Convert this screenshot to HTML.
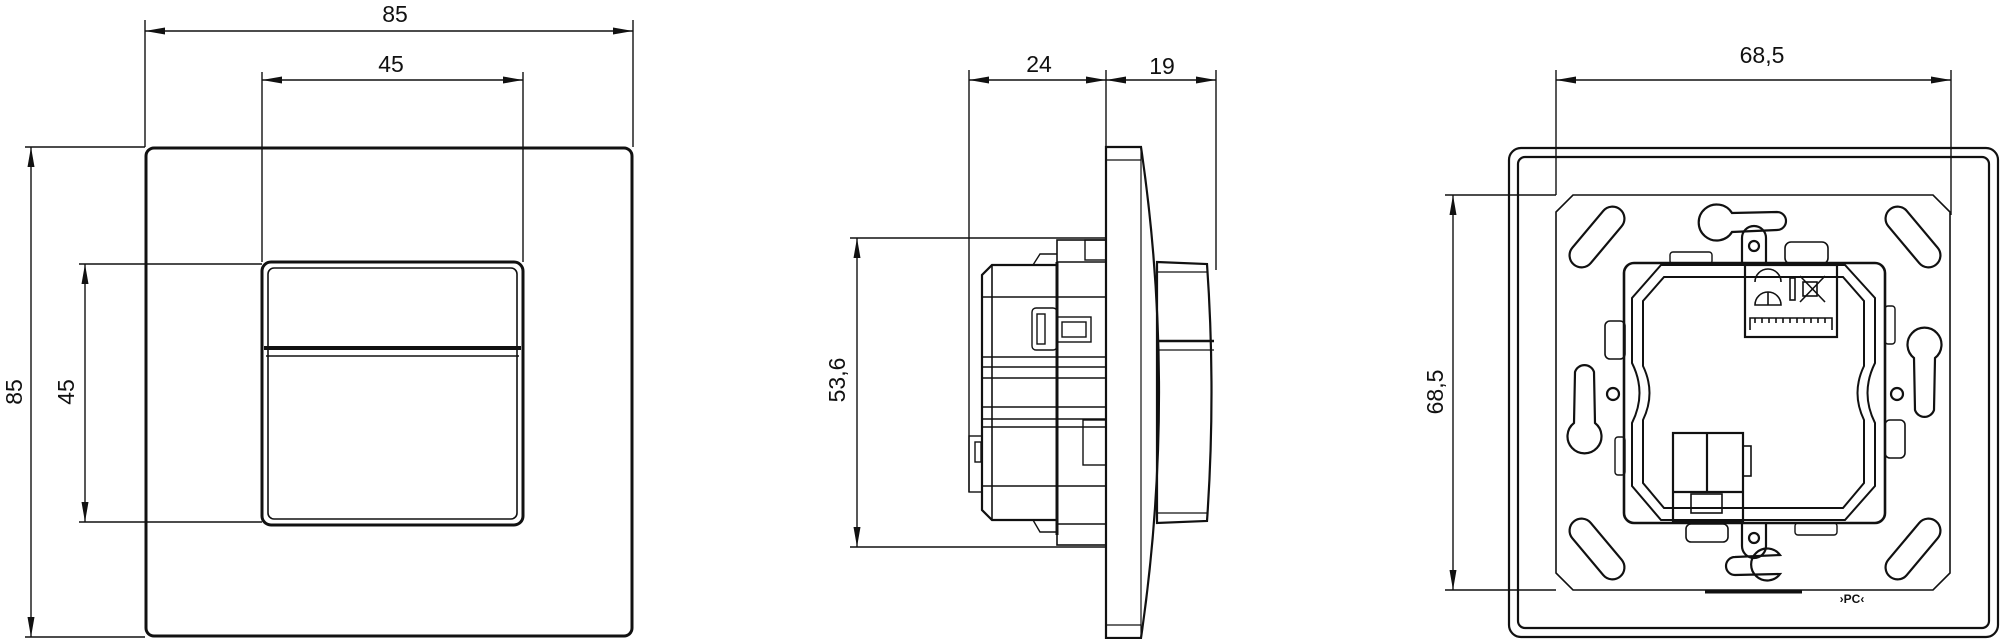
<!DOCTYPE html>
<html><head><meta charset="utf-8"><style>
html,body{margin:0;padding:0;background:#fff;width:2000px;height:639px;overflow:hidden}
svg{display:block}
text{font-family:"Liberation Sans",sans-serif;font-size:23px;fill:#111}
</style></head><body>
<svg width="2000" height="639" viewBox="0 0 2000 639" xmlns="http://www.w3.org/2000/svg">
<defs>
<marker id="a" viewBox="0 0 20 8" refX="20" refY="4" markerWidth="20" markerHeight="8" markerUnits="userSpaceOnUse" orient="auto-start-reverse"><path d="M20,4 L0,0.5 L0,7.5 Z" fill="#111"/></marker>
</defs>
<g fill="none" stroke="#111" stroke-width="1.4">
<!-- LEFT VIEW dims -->
<line x1="145" y1="20" x2="145" y2="147"/><line x1="633" y1="20" x2="633" y2="147"/>
<line x1="145" y1="31" x2="633" y2="31" marker-start="url(#a)" marker-end="url(#a)"/>
<line x1="262" y1="72" x2="262" y2="262"/><line x1="523" y1="72" x2="523" y2="262"/>
<line x1="262" y1="80" x2="523" y2="80" marker-start="url(#a)" marker-end="url(#a)"/>
<line x1="25" y1="147" x2="145" y2="147"/><line x1="25" y1="637" x2="145" y2="637"/>
<line x1="31" y1="147" x2="31" y2="637" marker-start="url(#a)" marker-end="url(#a)"/>
<line x1="79" y1="264" x2="262" y2="264"/><line x1="79" y1="522" x2="262" y2="522"/>
<line x1="85" y1="264" x2="85" y2="522" marker-start="url(#a)" marker-end="url(#a)"/>
</g>
<g fill="none" stroke="#111" stroke-width="3">
<rect x="146" y="148" width="486" height="488" rx="8"/>
<rect x="262" y="262" width="261" height="263" rx="9"/>
<rect x="268" y="268" width="249" height="251" rx="6" stroke-width="1.6"/>
<line x1="264" y1="348" x2="521" y2="348" stroke-width="4"/>
<line x1="266" y1="356" x2="519" y2="356" stroke-width="1.4"/>
</g>
<text x="395" y="22" text-anchor="middle">85</text>
<text x="391" y="72" text-anchor="middle">45</text>
<text transform="translate(22,392) rotate(-90)" text-anchor="middle">85</text>
<text transform="translate(74,392) rotate(-90)" text-anchor="middle">45</text>

<!-- MIDDLE VIEW -->
<g fill="none" stroke="#111" stroke-width="1.4">
<line x1="969" y1="70" x2="969" y2="492"/><line x1="1106" y1="70" x2="1106" y2="147"/><line x1="1216" y1="70" x2="1216" y2="270"/>
<line x1="969" y1="80" x2="1106" y2="80" marker-start="url(#a)" marker-end="url(#a)"/>
<line x1="1106" y1="80" x2="1216" y2="80" marker-start="url(#a)" marker-end="url(#a)"/>
<line x1="850" y1="238" x2="1105" y2="238"/><line x1="850" y1="547" x2="1105" y2="547"/>
<line x1="857" y1="238" x2="857" y2="547" marker-start="url(#a)" marker-end="url(#a)"/>
</g>
<text x="1039" y="72" text-anchor="middle">24</text>
<text x="1162" y="74" text-anchor="middle">19</text>
<text transform="translate(845,380) rotate(-90)" text-anchor="middle">53,6</text>
<g fill="none" stroke="#111" stroke-width="2.2">
<!-- plate -->
<path d="M1106,147 L1141,147 Q1177,392 1141,638 L1106,638 Z"/>
<line x1="1107" y1="160" x2="1141" y2="160" stroke-width="1.2"/>
<line x1="1107" y1="625" x2="1141" y2="625" stroke-width="1.2"/>
<line x1="1141" y1="148" x2="1141" y2="637" stroke-width="1.2"/>
<!-- rocker -->
<path d="M1157,262 L1207,264 Q1216,392 1207,521 L1157,523 Z"/>
<line x1="1158" y1="272" x2="1207" y2="272" stroke-width="1.2"/>
<line x1="1158" y1="341" x2="1214" y2="341" stroke-width="2.5"/>
<line x1="1158" y1="350" x2="1214" y2="350" stroke-width="1.2"/>
<line x1="1158" y1="513" x2="1207" y2="513" stroke-width="1.2"/>
<!-- rear block -->
<rect x="1057" y="240" width="49" height="305" stroke-width="1.6"/>
<path d="M992,265 L1057,265 L1057,520 L992,520 L982,510 L982,275 Z"/>
<line x1="992" y1="265" x2="992" y2="520" stroke-width="1.6"/>
<line x1="1057" y1="262" x2="1057" y2="535" stroke-width="3"/>
<g stroke-width="1.4">
<line x1="982" y1="297" x2="1106" y2="297"/>
<line x1="982" y1="357" x2="1106" y2="357"/>
<line x1="982" y1="367" x2="1106" y2="367"/>
<line x1="982" y1="378" x2="1106" y2="378"/>
<line x1="982" y1="407" x2="1106" y2="407"/>
<line x1="982" y1="419" x2="1106" y2="419"/>
<line x1="982" y1="427" x2="1106" y2="427"/>
<line x1="982" y1="486" x2="1106" y2="486"/>
<line x1="1057" y1="262" x2="1106" y2="262"/>
<line x1="1057" y1="524" x2="1106" y2="524"/>
<rect x="1032" y="308" width="25" height="42" rx="4"/>
<rect x="1037" y="314" width="8" height="30"/>
<rect x="1057" y="317" width="34" height="25"/>
<rect x="1062" y="322" width="24" height="15"/>
<rect x="969" y="436" width="13" height="56"/>
<rect x="975" y="442" width="6" height="20"/>
<rect x="1083" y="420" width="23" height="45"/>
<rect x="1085" y="240" width="21" height="20"/>
<path d="M1033,265 L1040,254 L1057,254"/>
<path d="M1033,520 L1040,532 L1057,532"/>
</g>
</g>

<!-- RIGHT VIEW -->
<g fill="none" stroke="#111" stroke-width="1.4">
<line x1="1556" y1="70" x2="1556" y2="195"/><line x1="1951" y1="70" x2="1951" y2="215"/>
<line x1="1556" y1="80" x2="1951" y2="80" marker-start="url(#a)" marker-end="url(#a)"/>
<line x1="1445" y1="195" x2="1556" y2="195"/><line x1="1445" y1="590" x2="1556" y2="590"/>
<line x1="1453" y1="195" x2="1453" y2="590" marker-start="url(#a)" marker-end="url(#a)"/>
</g>
<text x="1762" y="63" text-anchor="middle">68,5</text>
<text transform="translate(1443,392) rotate(-90)" text-anchor="middle">68,5</text>
<g fill="none" stroke="#111" stroke-width="2.2">
<rect x="1509" y="148" width="489" height="489" rx="12"/>
<rect x="1518" y="157" width="471" height="471" rx="7"/>
<path d="M1573,195 L1933,195 L1950,212 L1950,573 L1933,590 L1573,590 L1556,573 L1556,212 Z" stroke-width="1.6"/>
<line x1="1705" y1="592" x2="1802" y2="592" stroke-width="3"/>
<!-- diagonal slots -->
<rect x="-36" y="-12" width="72" height="24" rx="12" transform="translate(1597,237) rotate(-50)"/>
<rect x="-36" y="-12" width="72" height="24" rx="12" transform="translate(1913,237) rotate(50)"/>
<rect x="-36" y="-12" width="72" height="24" rx="12" transform="translate(1597,549) rotate(50)"/>
<rect x="-36" y="-12" width="72" height="24" rx="12" transform="translate(1913,549) rotate(-50)"/>
<!-- keyholes -->
<path d="M1732,213 A18,18 0 1 0 1732,232 L1777,230 A9,9 0 0 0 1777,212 Z"/>
<path d="M1780,555 A16,16 0 1 0 1780,574 L1735,575 A9,9 0 0 1 1735,557 Z"/>
<path d="M1574,423 A17,17 0 1 0 1595,423 L1594,372 A10,10 0 0 0 1575,372 Z"/>
<path d="M1914,358 A17,17 0 1 1 1935,358 L1934,410 A10,10 0 0 1 1915,410 Z"/>
<circle cx="1613" cy="394" r="6"/><circle cx="1897" cy="394" r="6"/>
<!-- screw tabs -->
<path d="M1742,262 L1742,238 A12,12 0 0 1 1766,238 L1766,262"/><circle cx="1754" cy="246" r="5"/>
<path d="M1742,524 L1742,546 A12,12 0 0 0 1766,546 L1766,524"/><circle cx="1754" cy="538" r="5"/>
<!-- small clips -->
<rect x="1785" y="242" width="43" height="22" rx="6" stroke-width="1.6"/>
<rect x="1670" y="252" width="42" height="12" rx="3" stroke-width="1.4"/>
<rect x="1686" y="524" width="42" height="18" rx="5" stroke-width="1.6"/>
<rect x="1795" y="523" width="42" height="12" rx="3" stroke-width="1.4"/>
<rect x="1605" y="321" width="20" height="38" rx="5" stroke-width="1.6"/>
<rect x="1615" y="437" width="10" height="38" rx="3" stroke-width="1.4"/>
<rect x="1885" y="306" width="10" height="38" rx="3" stroke-width="1.4"/>
<rect x="1885" y="420" width="20" height="38" rx="5" stroke-width="1.6"/>
<!-- module -->
<rect x="1624" y="263" width="261" height="260" rx="10" stroke-width="2.6"/>
<path d="M1661,265 L1845,265 L1875,298 L1875,363 Q1860,393 1875,423 L1875,486 L1845,520 L1661,520 L1632,486 L1632,423 Q1647,393 1632,363 L1632,298 Z" stroke-width="2"/>
<path d="M1664,277 L1843,277 L1864,301 L1864,366 Q1851,393 1864,420 L1864,483 L1843,508 L1664,508 L1643,483 L1643,420 Q1656,393 1643,366 L1643,301 Z" stroke-width="2"/>
<rect x="1745" y="265" width="92" height="72" stroke-width="2.2"/>
<g stroke-width="1.6">
<path d="M1755,282 A13,13 0 0 1 1781,282"/><path d="M1755,305 A13,13 0 0 1 1781,305 Z"/><line x1="1768" y1="292" x2="1768" y2="305"/>
<rect x="1790" y="278" width="5" height="22"/>
<line x1="1800" y1="276" x2="1825" y2="302"/><line x1="1825" y1="276" x2="1800" y2="302"/>
<rect x="1803" y="282" width="14" height="14"/>
<path d="M1750,330 L1750,318 L1832,318 L1832,330"/>
<path d="M1755,318 v5 M1762,318 v5 M1769,318 v5 M1776,318 v5 M1783,318 v5 M1790,318 v5 M1797,318 v5 M1804,318 v5 M1811,318 v5 M1818,318 v5 M1825,318 v5"/>
</g>
<rect x="1673" y="433" width="70" height="89" stroke-width="2.2"/>
<line x1="1707" y1="433" x2="1707" y2="492"/>
<line x1="1673" y1="492" x2="1743" y2="492"/>
<rect x="1691" y="494" width="31" height="19" stroke-width="1.6"/>
<rect x="1743" y="446" width="8" height="30" stroke-width="1.6"/>
</g>
<text x="1852" y="603" text-anchor="middle" style="font-size:12px;font-weight:bold">›PC‹</text>
</svg>
</body></html>
